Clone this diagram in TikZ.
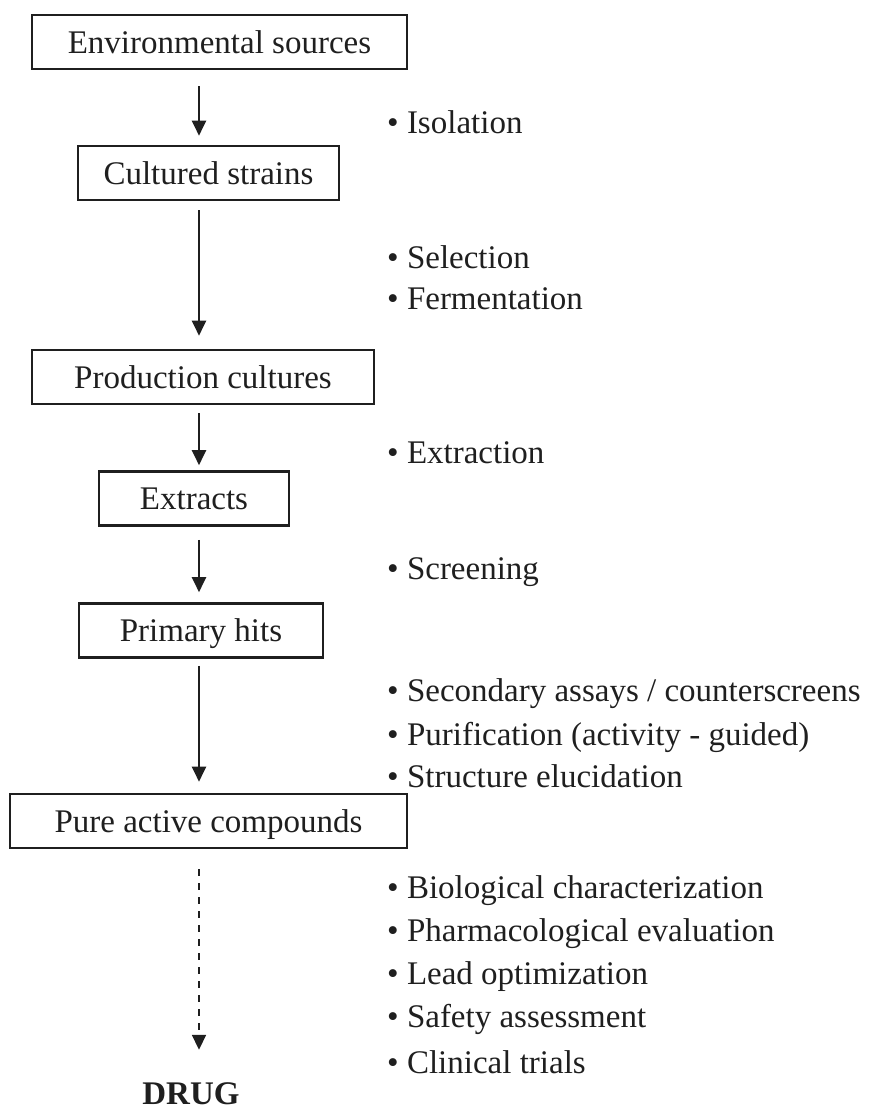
\documentclass[tikz,border=0pt]{standalone}
\usepackage{fontspec}
\setmainfont{Liberation Serif}
\usetikzlibrary{arrows.meta}
\tikzset{
        stage/.style={rectangle, draw, line width=2.6pt, inner sep=0pt,
            minimum height=54pt, text height=22pt, text depth=0pt},
        flow/.style={-{Triangle[length=15pt,width=14pt]}, line width=2pt},
        item/.style={anchor=base west, inner sep=0pt}
    }

\begin{document}
\begin{tikzpicture}[x=1pt,y=-1pt,font=\fontsize{33}{40}\selectfont,color={black!88}]
\useasboundingbox (0,0) rectangle (869,1109);
\coordinate (ax) at (199,0);
% flow column
\node(ENV)[stage,minimum width=375pt] at (219.5,42) {Environmental sources};
\node(CS)[stage,minimum width=261pt] at (208.5,173) {Cultured strains};
\node(PC)[stage,minimum width=342pt] at (203,377) {Production cultures};
\node(EX)[stage,minimum width=190pt] at (194,498.5) {Extracts};
\node(PH)[stage,minimum width=244pt] at (201,630.5) {Primary hits};
\node(PAC)[stage,minimum width=397pt] at (208.5,821) {Pure active compounds};
\node(DRUG)[anchor=base,inner sep=0pt,text height=22pt,text depth=0pt,font=\fontsize{33}{40}\selectfont\bfseries] at (191,1104) {DRUG};

\draw[flow,shorten <=16pt,shorten >=9pt] (ENV.south -| ax) -- (CS.north -| ax);
\draw[flow,shorten <=9pt,shorten >=13pt] (CS.south -| ax) -- (PC.north -| ax);
\draw[flow,shorten <=8pt,shorten >=5pt] (PC.south -| ax) -- (EX.north -| ax);
\draw[flow,shorten <=13pt,shorten >=10pt] (EX.south -| ax) -- (PH.north -| ax);
\draw[flow,shorten <=7pt,shorten >=11pt] (PH.south -| ax) -- (PAC.north -| ax);
\draw[flow,line width=1.8pt,dash pattern=on 7pt off 7pt,shorten <=20pt,shorten >=32pt] (PAC.south -| ax) -- (DRUG.north -| ax);

% steps on the right
\node(iso)[item] at (387,133) {• Isolation};
\node(sel)[item] at (387,268) {• Selection};
\node(fer)[item] at (387,309) {• Fermentation};
\node(ext)[item] at (387,463) {• Extraction};
\node(scr)[item] at (387,579) {• Screening};
\node(sec)[item] at (387,701) {• Secondary assays / counterscreens};
\node(pur)[item] at (387,745) {• Purification (activity - guided)};
\node(str)[item] at (387,787) {• Structure elucidation};
\node(bio)[item] at (387,898) {• Biological characterization};
\node(pha)[item] at (387,941) {• Pharmacological evaluation};
\node(lead)[item] at (387,984) {• Lead optimization};
\node(saf)[item] at (387,1027) {• Safety assessment};
\node(cli)[item] at (387,1073) {• Clinical trials};

\end{tikzpicture}
\end{document}
